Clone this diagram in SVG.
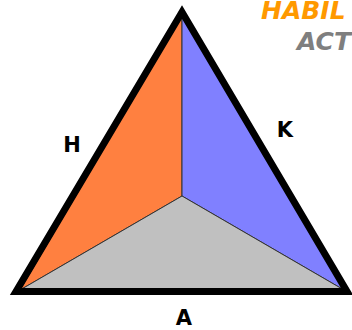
<svg xmlns="http://www.w3.org/2000/svg" width="352" height="330" viewBox="0 0 352 330">
<style>
.lbl{font-family:"DejaVu Sans","Liberation Sans",sans-serif;font-weight:bold;fill:#000}
.face{stroke:#333;stroke-width:1}
.ttl{font-family:"DejaVu Sans","Liberation Sans",sans-serif;font-weight:bold;font-style:italic}
</style>
<rect width="352" height="330" fill="#fff"/>
<g id="title">
<text class="ttl" x="261" y="19" font-size="25" fill="#FF9900">HABIL</text>
<text class="ttl" x="297" y="50" font-size="25" fill="#7f7f7f">ACT</text>
</g>
<g id="face-H"><polygon class="face" points="182,16 182,196 20,290" fill="#FF8040"/></g>
<g id="face-K"><polygon class="face" points="182,16 182,196 344,290" fill="#8080FF"/></g>
<g id="face-A"><polygon class="face" points="20,290 182,196 344,290" fill="#C0C0C0"/></g>
<g id="connectors">
<polygon points="16,291.5 182,12 347,291.5" fill="none" stroke="#000" stroke-width="7" stroke-linejoin="miter" stroke-miterlimit="10"/>
</g>
<g id="labels">
<text class="lbl" x="72" y="152" font-size="21" text-anchor="middle">H</text>
<text class="lbl" x="285" y="137" font-size="21" text-anchor="middle">K</text>
<text class="lbl" x="184" y="325" font-size="21" text-anchor="middle">A</text>
</g>
</svg>
